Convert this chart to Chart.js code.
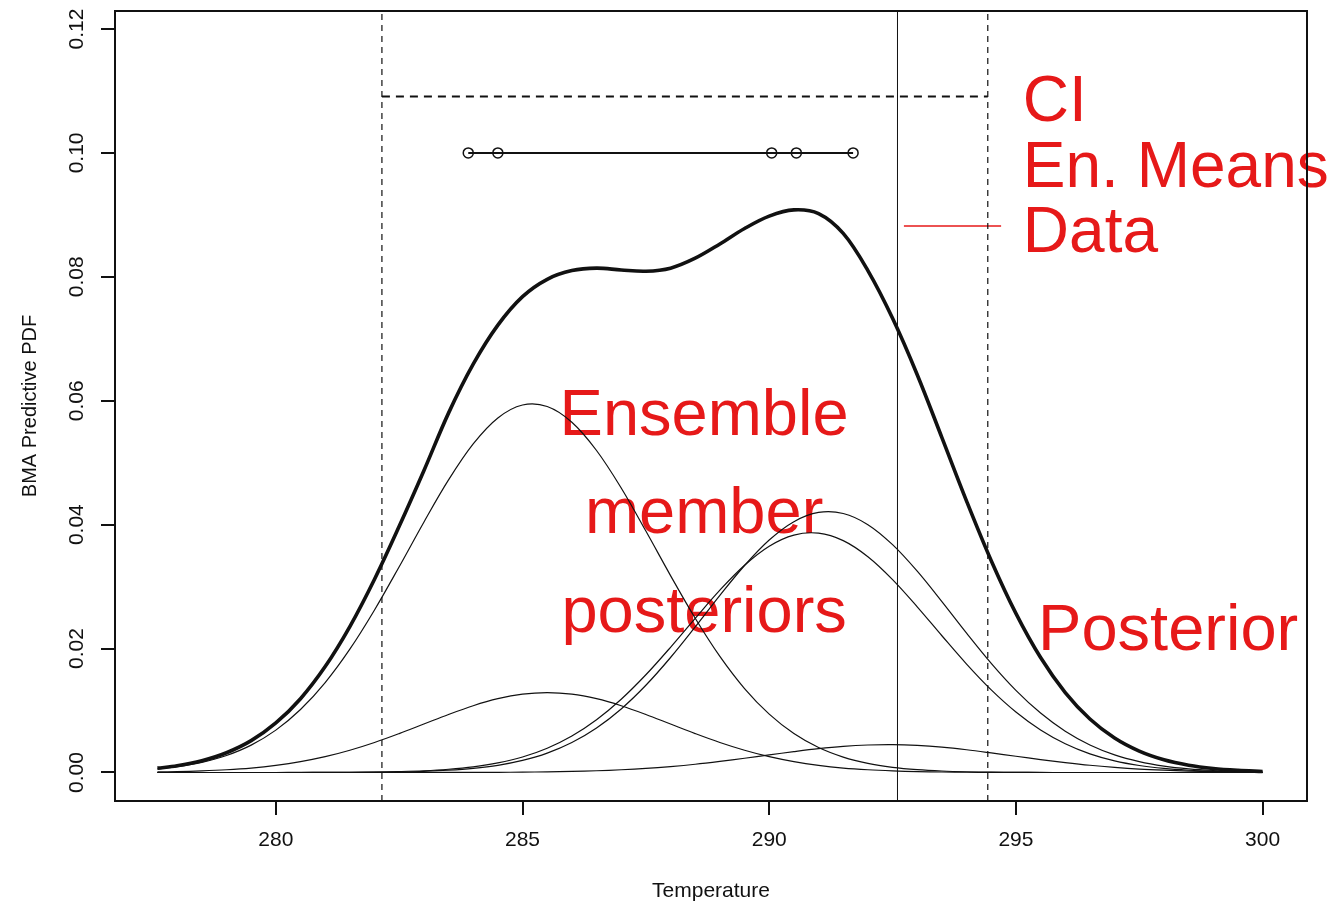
<!DOCTYPE html>
<html>
<head>
<meta charset="utf-8">
<script src="https://cdn.jsdelivr.net/npm/chart.js@4.4.1/dist/chart.umd.min.js"></script>
<style>
  body { margin: 0; background: #fff; }
  canvas { display: block; }
</style>
</head>
<body>
<canvas id="myChart" width="1334" height="902"></canvas>
<script>
// temperature grid the densities are read at
var temps = [277.6, 278, 278.5, 279, 279.5, 280, 280.5, 281, 281.5, 282, 282.5, 283, 283.5, 284, 284.5,
    285, 285.5, 286, 286.5, 287, 287.5, 288, 288.5, 289, 289.5, 290, 290.5, 291, 291.5, 292, 292.5,
    293, 293.5, 294, 294.5, 295, 295.5, 296, 296.5, 297, 297.5, 298, 298.5, 299, 299.5, 300];

// BMA predictive pdf (thick curve)
var bmaPdf = [0.00070, 0.00108, 0.00190, 0.00319, 0.00514, 0.00799, 0.01191, 0.01709, 0.02355, 0.03119,
    0.03973, 0.04870, 0.05800, 0.06590, 0.07220, 0.07680, 0.07960, 0.08100, 0.08140, 0.08110, 0.08090,
    0.08140, 0.08300, 0.08530, 0.08780, 0.08980, 0.09080, 0.09020, 0.08700, 0.08100, 0.07330, 0.06420,
    0.05405, 0.04381, 0.03419, 0.02568, 0.01855, 0.01290, 0.00863, 0.00556, 0.00345, 0.00205, 0.00118,
    0.00065, 0.00035, 0.00017];

// weighted member posteriors (thin curves)
var member1 = [0.00058, 0.00094, 0.00164, 0.00275, 0.00442, 0.00684, 0.01016, 0.01451, 0.01990, 0.02623,
    0.03321, 0.04040, 0.04722, 0.05303, 0.05722, 0.05931, 0.05907, 0.05653, 0.05197, 0.04592, 0.03897,
    0.03178, 0.02490, 0.01874, 0.01355, 0.00942, 0.00629, 0.00403, 0.00249, 0.00147, 0.00084, 0.00046,
    0.00024, 0.00012, 0.00006, 0.00003, 0.00001, 0, 0, 0, 0, 0, 0, 0, 0, 0];
var member2 = [0.00009, 0.00014, 0.00026, 0.00044, 0.00072, 0.00115, 0.00175, 0.00255, 0.00359, 0.00484,
    0.00628, 0.00782, 0.00937, 0.01078, 0.01191, 0.01265, 0.01290, 0.01265, 0.01191, 0.01078, 0.00937,
    0.00782, 0.00628, 0.00484, 0.00359, 0.00255, 0.00175, 0.00115, 0.00072, 0.00044, 0.00026, 0.00014,
    0.00008, 0.00004, 0.00002, 0.00001, 0, 0, 0, 0, 0, 0, 0, 0, 0, 0];
var member3 = [0, 0, 0, 0, 0, 0, 0.00001, 0.00002, 0.00004, 0.00007, 0.00015, 0.00028, 0.00052, 0.00091,
    0.00154, 0.00250, 0.00392, 0.00589, 0.00852, 0.01182, 0.01577, 0.02021, 0.02488, 0.02943, 0.03345,
    0.03653, 0.03832, 0.03863, 0.03742, 0.03482, 0.03113, 0.02674, 0.02207, 0.01750, 0.01333, 0.00976,
    0.00686, 0.00464, 0.00301, 0.00188, 0.00113, 0.00065, 0.00036, 0.00019, 0.00010, 0.00005];
var member4 = [0, 0, 0, 0, 0, 0, 0, 0.00001, 0.00002, 0.00005, 0.00010, 0.00019, 0.00037, 0.00067,
    0.00116, 0.00195, 0.00313, 0.00484, 0.00719, 0.01026, 0.01408, 0.01856, 0.02350, 0.02859, 0.03341,
    0.03752, 0.04048, 0.04197, 0.04180, 0.04000, 0.03677, 0.03249, 0.02758, 0.02249, 0.01762, 0.01326,
    0.00959, 0.00666, 0.00445, 0.00285, 0.00176, 0.00104, 0.00059, 0.00032, 0.00017, 0.00008];
var member5 = [0, 0, 0, 0, 0, 0, 0, 0, 0, 0, 0, 0, 0.00001, 0.00002, 0.00003, 0.00006, 0.00010, 0.00017,
    0.00028, 0.00044, 0.00066, 0.00096, 0.00133, 0.00179, 0.00230, 0.00284, 0.00337, 0.00385, 0.00422,
    0.00444, 0.00450, 0.00437, 0.00409, 0.00367, 0.00316, 0.00262, 0.00209, 0.00160, 0.00117, 0.00083,
    0.00056, 0.00037, 0.00023, 0.00014, 0.00008, 0.00004];

var ensMeans = [283.9, 284.5, 290.05, 290.55, 291.7];
var ensLevel = 0.10;
var ciBounds = [282.15, 294.43];
var ciLevel = 0.1091;
var observed = 292.6;
var keyLine = [292.73, 294.7];
var keyLevel = 0.0882;

var xTicks = [280, 285, 290, 295, 300];
var yTicks = [0, 0.02, 0.04, 0.06, 0.08, 0.10, 0.12];
var yTickLabels = ['0.00', '0.02', '0.04', '0.06', '0.08', '0.10', '0.12'];

var xMin = 276.74, xMax = 300.9;
var yMin = -0.0046, yMax = 0.1229;

var red = '#e61919';
var ink = '#111';
var fam = '"Liberation Sans", Arial, Helvetica, sans-serif';

// red annotations, placed in data units
var notes = [
    { text: 'CI', x: 295.14, y: 0.1052, size: 64, align: 'left' },
    { text: 'En. Means', x: 295.14, y: 0.0945, size: 64, align: 'left' },
    { text: 'Data', x: 295.14, y: 0.0840, size: 64, align: 'left' },
    { text: 'Ensemble', x: 288.68, y: 0.0544, size: 65, align: 'center' },
    { text: 'member', x: 288.68, y: 0.0387, size: 65, align: 'center' },
    { text: 'posteriors', x: 288.68, y: 0.0227, size: 65, align: 'center' },
    { text: 'Posterior', x: 295.45, y: 0.0198, size: 65, align: 'left' }
];

function pairs(xs, ys) {
    return xs.map(function (x, i) { return { x: x, y: ys[i] }; });
}

function curve(vals, width) {
    return {
        data: pairs(temps, vals),
        showLine: true,
        borderColor: ink,
        borderWidth: width,
        pointRadius: 0,
        tension: 0.35,
        fill: false
    };
}

function segment(pts, width, dash, color) {
    return {
        data: pts,
        showLine: true,
        borderColor: color || ink,
        borderWidth: width,
        borderDash: dash || [],
        pointRadius: 0,
        fill: false
    };
}

// no extra room for overflowing tick labels, the plot box is fixed
function noPad(s) {
    s.paddingTop = 0;
    s.paddingBottom = 0;
    s.paddingLeft = 0;
    s.paddingRight = 0;
}

// red notes go under the curves, the box goes on top
var frameAndNotes = {
    id: 'frameAndNotes',
    beforeDatasetsDraw: function (chart) {
        var ctx = chart.ctx;
        var sx = chart.scales.x, sy = chart.scales.y;
        ctx.save();
        ctx.fillStyle = red;
        ctx.textBaseline = 'alphabetic';
        notes.forEach(function (n) {
            ctx.font = n.size + 'px ' + fam;
            ctx.textAlign = n.align;
            ctx.fillText(n.text, sx.getPixelForValue(n.x), sy.getPixelForValue(n.y));
        });
        ctx.restore();
    },
    afterDatasetsDraw: function (chart) {
        var ctx = chart.ctx, a = chart.chartArea;
        ctx.save();
        ctx.strokeStyle = ink;
        ctx.lineWidth = 2;
        ctx.strokeRect(a.left, a.top, a.right - a.left, a.bottom - a.top);
        ctx.restore();
    }
};

var datasets = [
    curve(bmaPdf, 3.6),
    curve(member1, 1.2),
    curve(member2, 1.2),
    curve(member3, 1.2),
    curve(member4, 1.2),
    curve(member5, 1.2),
    segment([{ x: ciBounds[0], y: yMin }, { x: ciBounds[0], y: yMax }], 1.2, [6, 5]),
    segment([{ x: ciBounds[1], y: yMin }, { x: ciBounds[1], y: yMax }], 1.2, [6, 5]),
    segment([{ x: ciBounds[0], y: ciLevel }, { x: ciBounds[1], y: ciLevel }], 2, [8, 6]),
    segment([{ x: observed, y: yMin }, { x: observed, y: yMax }], 1),
    segment([{ x: keyLine[0], y: keyLevel }, { x: keyLine[1], y: keyLevel }], 1.6, [], red),
    {
        data: ensMeans.map(function (m) { return { x: m, y: ensLevel }; }),
        showLine: true,
        borderColor: ink,
        borderWidth: 2,
        pointRadius: 5,
        pointBorderWidth: 1.5,
        pointBorderColor: ink,
        pointBackgroundColor: 'rgba(255,255,255,0)',
        fill: false
    }
];

var ctx = document.getElementById('myChart').getContext('2d');
var myChart = new Chart(ctx, {
    type: 'scatter',
    data: { datasets: datasets },
    options: {
        responsive: false,
        animation: false,
        layout: { padding: { top: 11, right: 27, bottom: 0, left: 0 } },
        plugins: { legend: { display: false }, tooltip: { enabled: false } },
        scales: {
            x: {
                type: 'linear',
                min: xMin,
                max: xMax,
                afterBuildTicks: function (s) { s.ticks = xTicks.map(function (v) { return { value: v }; }); },
                afterFit: function (s) { s.height = 101; noPad(s); },
                border: { display: false },
                grid: { drawOnChartArea: false, drawTicks: true, tickLength: 14, color: ink, lineWidth: 2 },
                ticks: {
                    color: ink, padding: 13, maxRotation: 0, autoSkip: false,
                    font: { family: fam, size: 21 },
                    callback: function (v) { return String(v); }
                },
                title: {
                    display: true, text: 'Temperature', color: ink,
                    font: { family: fam, size: 21, lineHeight: 1 },
                    padding: { top: 0, bottom: 0 }
                }
            },
            y: {
                type: 'linear',
                min: yMin,
                max: yMax,
                afterBuildTicks: function (s) { s.ticks = yTicks.map(function (v) { return { value: v }; }); },
                afterFit: function (s) { s.width = 115; noPad(s); },
                border: { display: false },
                grid: { drawOnChartArea: false, drawTicks: true, tickLength: 14, color: ink, lineWidth: 2 },
                ticks: {
                    color: ink, padding: 3, minRotation: 90, maxRotation: 90, crossAlign: 'center', autoSkip: false,
                    font: { family: fam, size: 21 },
                    callback: function (v) {
                        var i = yTicks.indexOf(v);
                        return i >= 0 ? yTickLabels[i] : '';
                    }
                },
                title: {
                    display: true, text: 'BMA Predictive PDF', color: ink,
                    font: { family: fam, size: 20, lineHeight: 1 },
                    padding: { top: 20, bottom: 0 }
                }
            }
        }
    },
    plugins: [frameAndNotes]
});
</script>
</body>
</html>
